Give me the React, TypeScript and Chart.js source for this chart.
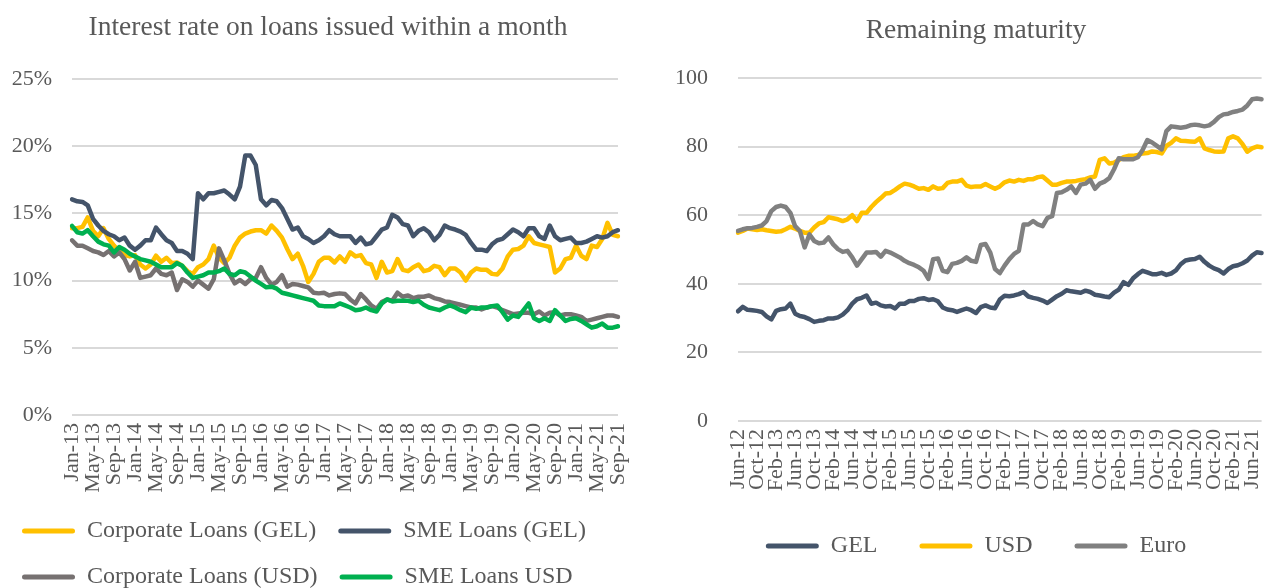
import React, { useEffect, useRef } from 'react';
import { Chart, registerables } from 'chart.js';

Chart.register(...registerables);

const MONTH_NAMES = ['Jan', 'Feb', 'Mar', 'Apr', 'May', 'Jun', 'Jul', 'Aug', 'Sep', 'Oct', 'Nov', 'Dec'];
function monthLabels(startYear: number, startMonth: number, count: number): string[] {
  const out: string[] = [];
  for (let k = 0; k < count; k++) {
    const m = (startMonth + k) % 12;
    const y = startYear + Math.floor((startMonth + k) / 12);
    out.push(MONTH_NAMES[m] + '-' + String(y % 100).padStart(2, '0'));
  }
  return out;
}

// ---------- Left chart: Interest rate on loans issued within a month (Jan-13 .. Sep-21) ----------
const rateMonths = monthLabels(2013, 0, 105);

const corporateLoansGEL = [
  13.9, 13.9, 14.0, 14.7, 13.7, 13.3, 13.9, 13.1, 12.6, 12.2, 11.9, 11.8, 11.9, 11.2, 10.9, 11.2,
  11.85, 11.4, 11.7, 11.3, 11.35, 11.1, 10.7, 10.5, 11.0, 11.2, 11.6, 12.6, 11.7, 11.3, 11.7, 12.6,
  13.2, 13.5, 13.65, 13.75, 13.75, 13.5, 14.1, 13.7, 13.2, 12.35, 11.6, 12.0, 11.1, 9.9, 10.5, 11.4,
  11.7, 11.7, 11.35, 11.8, 11.4, 12.1, 11.8, 11.9, 11.3, 11.2, 10.2, 11.4, 10.6, 10.7, 11.6, 10.8,
  10.7, 11.0, 11.2, 10.7, 10.8, 11.1, 11.0, 10.4, 10.9, 10.9, 10.6, 10.0, 10.6, 10.9, 10.8, 10.8,
  10.5, 10.45, 10.9, 11.8, 12.3, 12.35, 12.6, 13.3, 12.8, 12.7, 12.6, 12.5, 10.6, 10.9, 11.6, 11.7,
  12.6, 11.85, 11.6, 12.6, 12.5, 13.1, 14.3, 13.4, 13.3,
];

const smeLoansGEL = [
  16.05, 15.9, 15.85, 15.6, 14.6, 14.1, 13.7, 13.45, 13.3, 13.0, 13.2, 12.6, 12.3, 12.6, 13.0, 13.0,
  13.95, 13.45, 13.0, 12.8, 12.2, 12.2, 12.0, 11.6, 16.5, 16.05, 16.5, 16.5, 16.6, 16.7, 16.4, 16.05,
  17.0, 19.3, 19.3, 18.6, 16.05, 15.6, 16.0, 15.9, 15.4, 14.6, 13.8, 13.95, 13.3, 13.1, 12.8, 13.0,
  13.3, 13.75, 13.45, 13.3, 13.3, 13.3, 12.8, 13.2, 12.7, 12.8, 13.3, 13.8, 13.95, 14.9, 14.7, 14.2,
  14.1, 13.3, 13.7, 13.9, 13.6, 13.0, 13.4, 14.1, 13.9, 13.8, 13.65, 13.4, 12.8, 12.3, 12.3, 12.2,
  12.7, 13.0, 13.1, 13.45, 13.8, 13.6, 13.3, 13.9, 13.9, 13.3, 13.1, 14.1, 13.3, 13.0, 13.1, 13.2,
  12.8, 12.8, 12.9, 13.1, 13.3, 13.2, 13.3, 13.6, 13.75,
];

const corporateLoansUSD = [
  13.0, 12.6, 12.6, 12.4, 12.2, 12.1, 11.9, 12.2, 11.8, 12.1, 11.6, 10.75, 11.4, 10.2, 10.3, 10.4,
  10.9, 10.5, 10.4, 10.6, 9.3, 10.1, 9.9, 9.55, 10.0, 9.7, 9.4, 10.1, 12.4, 11.5, 10.5, 9.8,
  10.05, 9.75, 10.1, 10.2, 11.0, 10.2, 9.7, 9.9, 10.4, 9.55, 9.75, 9.7, 9.6, 9.5, 9.1, 9.05,
  9.1, 8.9, 9.0, 9.05, 9.0, 8.6, 8.3, 9.0, 8.6, 8.15, 7.9, 8.4, 8.6, 8.5, 9.1, 8.8,
  8.9, 8.7, 8.8, 8.8, 8.9, 8.7, 8.6, 8.45, 8.4, 8.3, 8.2, 8.1, 8.0, 8.0, 7.85, 8.0,
  8.1, 8.0, 7.8, 7.65, 7.5, 7.55, 7.6, 7.6, 7.5, 7.7, 7.4, 7.6, 7.65, 7.4, 7.5, 7.5,
  7.4, 7.3, 7.0, 7.1, 7.2, 7.3, 7.4, 7.4, 7.3,
];

const smeLoansUSD = [
  14.07, 13.6, 13.5, 13.75, 13.3, 12.9, 12.7, 12.6, 12.1, 12.5, 12.3, 12.0, 11.8, 11.6, 11.5, 11.4,
  11.2, 11.0, 11.0, 11.0, 11.3, 11.1, 10.6, 10.2, 10.3, 10.4, 10.6, 10.6, 10.7, 10.9, 10.5, 10.4,
  10.7, 10.6, 10.3, 10.0, 9.75, 9.5, 9.55, 9.4, 9.1, 9.0, 8.9, 8.8, 8.7, 8.6, 8.5, 8.15,
  8.1, 8.1, 8.1, 8.3, 8.15, 8.0, 7.8, 7.85, 8.0, 7.8, 7.7, 8.3, 8.6, 8.45, 8.5, 8.5,
  8.5, 8.4, 8.5, 8.2, 8.0, 7.9, 7.8, 8.0, 8.15, 8.0, 7.8, 7.65, 8.0, 7.9, 8.0, 8.0,
  8.1, 8.15, 7.65, 7.1, 7.4, 7.3, 7.8, 8.3, 7.2, 7.0, 7.2, 7.0, 7.8, 7.4, 7.0, 7.15,
  7.2, 7.0, 6.75, 6.5, 6.6, 6.8, 6.5, 6.5, 6.6,
];

const rateTicks = [0, 5, 10, 15, 20, 25];

// ---------- Right chart: Remaining maturity (Jun-12 .. Aug-21) ----------
const maturityMonths = monthLabels(2012, 5, 111);

const maturityGEL = [
  32.0, 33.3, 32.4, 32.3, 32.1, 31.8, 30.5, 29.6, 32.1, 32.6, 32.8, 34.2, 31.3, 30.6, 30.3, 29.7,
  28.9, 29.2, 29.4, 29.9, 29.9, 30.2, 31.0, 32.3, 34.2, 35.5, 35.9, 36.6, 34.2, 34.5, 33.7, 33.4,
  33.5, 32.8, 34.2, 34.2, 35.0, 35.0, 35.6, 35.8, 35.3, 35.5, 34.9, 33.1, 32.5, 32.3, 31.8, 32.3,
  32.8, 32.3, 31.5, 33.2, 33.7, 33.1, 32.9, 35.4, 36.5, 36.4, 36.6, 37.0, 37.6, 36.3, 35.9, 35.6,
  35.1, 34.4, 35.4, 36.4, 37.1, 38.1, 37.8, 37.6, 37.4, 38.0, 37.6, 36.8, 36.6, 36.3, 36.1, 37.4,
  38.3, 40.5, 39.7, 41.6, 42.8, 43.8, 43.3, 42.8, 42.8, 43.2, 42.6, 43.0, 43.9, 45.7, 46.8, 47.1,
  47.2, 47.9, 46.4, 45.3, 44.5, 44.0, 43.0, 44.3, 45.1, 45.4, 46.0, 46.8, 48.2, 49.2, 49.0,
];

const maturityUSD = [
  54.9, 55.4, 56.1, 55.9, 55.7, 55.9, 55.6, 55.4, 55.2, 55.3, 55.9, 56.6, 56.1, 55.4, 54.9, 54.9,
  56.4, 57.6, 58.0, 59.4, 59.1, 58.8, 58.3, 58.8, 60.0, 58.3, 60.7, 60.7, 62.4, 63.8, 65.0, 66.3,
  66.5, 67.4, 68.4, 69.2, 68.9, 68.4, 67.7, 67.9, 67.4, 68.4, 67.7, 67.9, 69.4, 69.8, 69.8, 70.3,
  68.6, 68.2, 68.4, 68.4, 69.1, 68.4, 67.7, 68.4, 69.6, 70.1, 69.8, 70.3, 70.0, 70.5, 70.5, 71.1,
  71.3, 70.1, 68.9, 68.9, 69.4, 69.8, 69.8, 70.0, 70.3, 70.5, 71.0, 71.3, 76.1, 76.6, 75.1, 75.3,
  76.1, 76.9, 77.3, 77.3, 77.6, 78.0, 78.1, 78.6, 78.4, 78.0, 80.2, 81.1, 82.4, 81.7, 81.6, 81.5,
  81.4, 82.4, 79.5, 79.0, 78.6, 78.5, 78.6, 82.4, 83.0, 82.4, 80.7, 78.5, 79.5, 80.0, 79.8,
];

const maturityEuro = [
  55.4, 55.9, 56.2, 56.3, 56.6, 57.0, 58.3, 61.2, 62.4, 62.8, 62.4, 60.7, 56.8, 55.4, 50.6, 54.4,
  52.5, 51.8, 52.0, 53.5, 51.5, 50.1, 49.3, 49.6, 47.7, 45.3, 47.2, 49.1, 49.1, 49.3, 47.9, 49.6,
  49.1, 48.4, 47.7, 46.7, 46.0, 45.5, 44.8, 43.8, 41.4, 47.2, 47.4, 43.8, 43.4, 45.8, 46.1, 46.7,
  47.7, 46.7, 46.4, 51.3, 51.6, 49.1, 44.3, 43.1, 45.3, 47.2, 48.7, 49.6, 57.3, 57.3, 58.3, 57.3,
  56.8, 59.2, 59.7, 66.5, 66.7, 67.4, 68.4, 66.5, 68.9, 69.2, 70.3, 67.7, 69.2, 69.8, 70.8, 73.4,
  76.6, 76.3, 76.3, 76.3, 76.9, 79.0, 81.9, 81.2, 80.2, 79.2, 84.5, 85.9, 85.7, 85.5, 85.7, 86.2,
  86.4, 86.2, 85.9, 86.2, 87.2, 88.6, 89.4, 89.6, 90.1, 90.4, 90.8, 92.0, 93.8, 94.0, 93.8,
];

const maturityTicks = [0, 20, 40, 60, 80, 100];

// ---------- styling ----------
const FONT = "'Liberation Serif', 'Times New Roman', serif";
const TEXT = '#595959';
const GRID = '#D9D9D9';
const YELLOW = '#FFC000';
const NAVY = '#44546A';
const DARKGRAY = '#767171';
const GREEN = '#00B050';
const GRAY = '#808080';

function line(label: string, data: number[], color: string, order: number) {
  return {
    label,
    data,
    yAxisID: 'y',
    xAxisID: 'x',
    borderColor: color,
    backgroundColor: color,
    borderWidth: 4.5,
    pointRadius: 0,
    pointHoverRadius: 0,
    tension: 0,
    borderJoinStyle: 'round' as const,
    borderCapStyle: 'round' as const,
    order,
    fill: false,
  };
}

function legendLabels(fontSize: number, padding: number) {
  return {
    color: TEXT,
    font: { family: FONT, size: fontSize },
    boxWidth: 53,
    boxHeight: 5,
    padding,
    useBorderRadius: true,
    borderRadius: 2.5,
    sort: (a: any, b: any) => a.datasetIndex - b.datasetIndex,
    generateLabels: (chart: any) =>
      Chart.defaults.plugins.legend.labels
        .generateLabels(chart)
        .map((l: any) => ({ ...l, lineWidth: 0, fillStyle: l.strokeStyle })),
  };
}

function makeConfig(opts: {
  labels: string[];
  datasets: any[];
  title: string;
  titleTop: number;
  titleBottom: number;
  yMin: number;
  yMax: number;
  yTicks: number[];
  yFormat: (v: number) => string;
  yWidth: number;
  yPad: number;
  xHeight: number;
  rightGap: number;
  legendAlign: 'start' | 'center';
  legendPadding: number;
}): any {
  return {
    type: 'line',
    data: { labels: opts.labels, datasets: opts.datasets },
    options: {
      responsive: false,
      animation: false,
      devicePixelRatio: 1,
      layout: { padding: 0 },
      plugins: {
        title: {
          display: true,
          text: opts.title,
          color: TEXT,
          font: { family: FONT, size: 27.5, weight: 'normal' },
          padding: { top: opts.titleTop, bottom: opts.titleBottom },
        },
        legend: {
          display: true,
          position: 'bottom',
          align: opts.legendAlign,
          labels: legendLabels(24, opts.legendPadding),
        },
        tooltip: { enabled: false },
      },
      scales: {
        x: {
          type: 'category',
          offset: false,
          grid: { display: false, drawTicks: false },
          border: { display: false },
          ticks: {
            autoSkip: false,
            maxRotation: 90,
            minRotation: 90,
            padding: 8,
            color: TEXT,
            font: { family: FONT, size: 22 },
            callback: function (this: any, _v: any, index: number) {
              return index % 4 === 0 ? opts.labels[index] : '';
            },
          },
          afterFit: (scale: any) => {
            scale.height = opts.xHeight;
          },
        },
        y: {
          position: 'left',
          min: opts.yMin,
          max: opts.yMax,
          grid: { color: GRID, lineWidth: 2, drawTicks: false },
          border: { display: false },
          afterBuildTicks: (scale: any) => {
            scale.ticks = opts.yTicks.map((v) => ({ value: v }));
          },
          ticks: {
            padding: opts.yPad,
            color: TEXT,
            font: { family: FONT, size: 22 },
            callback: (v: any) => opts.yFormat(Number(v)),
          },
          afterFit: (scale: any) => {
            scale.width = opts.yWidth;
          },
        },
        // empty spacer on the right so that the full-width title stays centred on the canvas
        gap: {
          type: 'linear',
          axis: 'y',
          position: 'right',
          display: true,
          grid: { display: false, drawTicks: false },
          border: { display: false },
          ticks: { display: false },
          afterFit: (scale: any) => {
            scale.width = opts.rightGap;
          },
        },
      },
    },
  };
}

export default function App() {
  const leftRef = useRef<HTMLCanvasElement | null>(null);
  const rightRef = useRef<HTMLCanvasElement | null>(null);

  useEffect(() => {
    const left = new Chart(
      leftRef.current as HTMLCanvasElement,
      makeConfig({
        labels: rateMonths,
        datasets: [
          line('Corporate Loans (GEL)', corporateLoansGEL, YELLOW, 3),
          line('SME Loans (GEL)', smeLoansGEL, NAVY, 2),
          line('Corporate Loans (USD)', corporateLoansUSD, DARKGRAY, 1),
          line('SME Loans USD', smeLoansUSD, GREEN, 0),
        ],
        title: 'Interest rate on loans issued within a month',
        titleTop: 11,
        titleBottom: 35,
        yMin: 0,
        yMax: 25,
        yTicks: rateTicks,
        yFormat: (v) => v + '%',
        yWidth: 72,
        yPad: 20,
        xHeight: 82,
        rightGap: 38,
        legendAlign: 'start',
        legendPadding: 22,
      })
    );
    const right = new Chart(
      rightRef.current as HTMLCanvasElement,
      makeConfig({
        labels: maturityMonths,
        datasets: [
          line('GEL', maturityGEL, NAVY, 2),
          line('USD', maturityUSD, YELLOW, 1),
          line('Euro', maturityEuro, GRAY, 0),
        ],
        title: 'Remaining maturity',
        titleTop: 14.5,
        titleBottom: 30.5,
        yMin: 0,
        yMax: 100,
        yTicks: maturityTicks,
        yFormat: (v) => String(v),
        yWidth: 82,
        yPad: 30,
        xHeight: 71,
        rightGap: 33,
        legendAlign: 'center',
        legendPadding: 42,
      })
    );
    return () => {
      left.destroy();
      right.destroy();
    };
  }, []);

  return (
    <div
      style={{
        position: 'fixed',
        left: 0,
        top: 0,
        width: 1264,
        height: 588,
        overflow: 'hidden',
        background: '#ffffff',
      }}
    >
      <canvas
        ref={leftRef}
        width={656}
        height={599}
        style={{ position: 'absolute', left: 0, top: 0, width: 656, height: 599, display: 'block' }}
      />
      <canvas
        ref={rightRef}
        width={640}
        height={568}
        style={{ position: 'absolute', left: 656, top: 0, width: 640, height: 568, display: 'block' }}
      />
    </div>
  );
}
